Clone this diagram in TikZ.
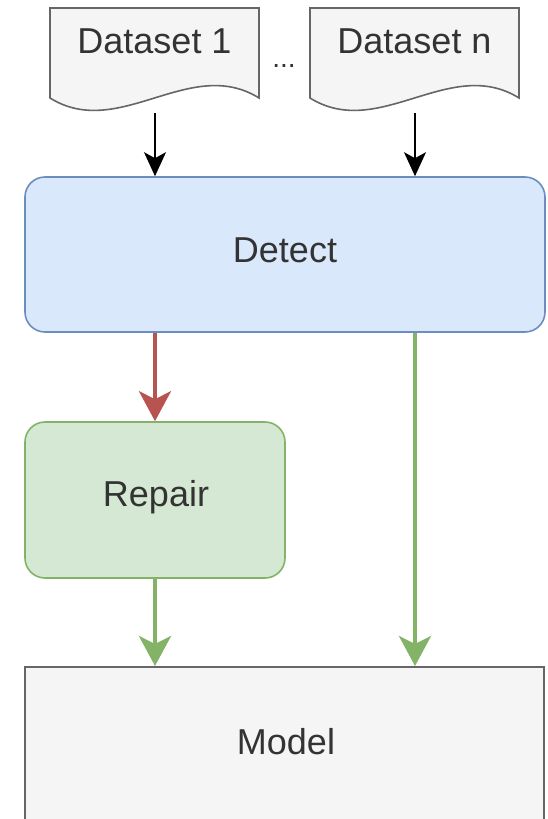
\documentclass[tikz,border=0pt]{standalone}
\usepackage{fontspec}
\setmainfont{Liberation Sans}
\usetikzlibrary{arrows.meta}
\definecolor{docfill}{HTML}{F5F5F5}
\definecolor{docline}{HTML}{666666}
\definecolor{detfill}{HTML}{DAE8FC}
\definecolor{detline}{HTML}{6C8EBF}
\definecolor{repfill}{HTML}{D5E8D4}
\definecolor{repline}{HTML}{82B366}
\definecolor{redline}{HTML}{B85450}
\definecolor{txt}{HTML}{333333}
\begin{document}
\begin{tikzpicture}[x=1pt,y=-1pt,
  bigtext/.style={text=txt,font=\fontsize{36}{40}\selectfont},
  docshape/.style={fill=docfill,draw=docline,line width=1.6pt},
  doclabel/.style={bigtext,inner sep=0pt},
  detbox/.style={rectangle,rounded corners=20pt,fill=detfill,draw=detline,line width=1.6pt,bigtext},
  repbox/.style={rectangle,rounded corners=20pt,fill=repfill,draw=repline,line width=1.6pt,bigtext},
  modbox/.style={rectangle,fill=docfill,draw=docline,line width=2pt,bigtext},
  blackarrow/.style={draw=black,line width=1.6pt,-{Stealth[length=24pt,width=22pt,inset=6pt]}},
  redarrow/.style={draw=redline,line width=4pt,-{Stealth[length=30pt,width=32pt,inset=8pt]}},
  greenarrow/.style={draw=repline,line width=4pt,-{Stealth[length=30pt,width=32pt,inset=8pt]}}
]
\useasboundingbox (0,0) rectangle (547,819);
\clip (0,0) rectangle (547,819);
\fill[white] (0,0) rectangle (547,819);

% documents
\draw[docshape] (50,8) -- (50,98) .. controls (119,141) and (190,55) .. (259,98) -- (259,8) -- cycle;
\draw[docshape] (310,8) -- (310,98) .. controls (379,141) and (450,55) .. (519,98) -- (519,8) -- cycle;
\node[doclabel] (d1) at (154.5,41) {Dataset 1};
\node[doclabel] (dn) at (414.5,41) {Dataset n};
\node[text=txt,font=\fontsize{28}{30}\selectfont,inner sep=0pt,anchor=base] (dots) at (284,67) {...};
\coordinate (d1out) at (155,113);
\coordinate (dnout) at (415,113);

% boxes
\node[detbox,minimum width=520pt,minimum height=155pt] (det) at (285,254.5) {};
\node[bigtext] (dettxt) at (285,250) {Detect};
\node[repbox,minimum width=260pt,minimum height=156pt] (rep) at (155,500) {};
\node[bigtext] (reptxt) at (156,497) {Repair};
\node[modbox,minimum width=519pt,minimum height=156pt] (mod) at (284.5,745) {};
\node[bigtext] (modtxt) at (286,742) {Model};

% connectors
\draw[blackarrow] (d1out) -- (d1out |- det.north);
\draw[blackarrow] (dnout) -- (dnout |- det.north);
\draw[redarrow] (det.south -| rep.north) -- (rep.north);
\draw[greenarrow] (rep.south) -- (rep.south |- mod.north);
\draw[greenarrow] (det.south -| dnout) -- (dnout |- mod.north);
\end{tikzpicture}
\end{document}
